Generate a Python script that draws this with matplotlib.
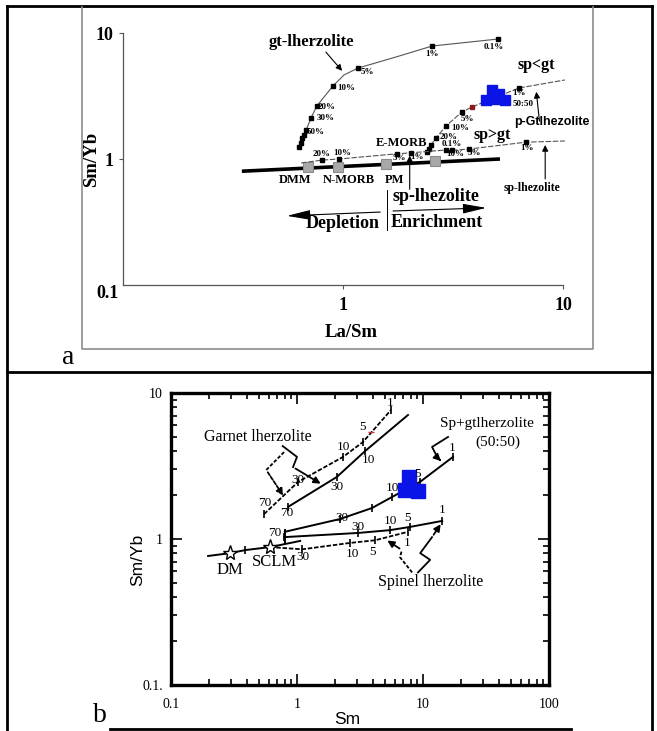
import matplotlib
matplotlib.use('Agg')
import matplotlib.pyplot as plt
from matplotlib.lines import Line2D

plt.rcParams['font.family'] = ['Liberation Serif', 'DejaVu Serif']

W, H = 657, 731

# ---------------- panel a : La/Sm vs Sm/Yb ----------------
gt_curve_x = [0.63, 0.644, 0.65, 0.665, 0.68, 0.716, 0.76, 0.90, 1.01, 1.17, 1.74, 2.54, 5.07]
gt_curve_y = [1.25, 1.34, 1.47, 1.55, 1.70, 2.12, 2.63, 3.80, 4.64, 5.27, 6.45, 7.88, 8.96]
gt_mark_x = [0.63, 0.644, 0.65, 0.665, 0.68, 0.716, 0.76, 0.90, 1.17, 2.54, 5.07]
gt_mark_y = [1.25, 1.34, 1.47, 1.55, 1.70, 2.12, 2.63, 3.80, 5.27, 7.88, 8.96]
gt_pct = ['50%', '30%', '20%', '10%', '5%', '1%', '0.1%']
gt_pct_x = [0.754, 0.83, 0.846, 1.03, 1.29, 2.54, 4.86]
gt_pct_y = [1.64, 2.12, 2.59, 3.66, 4.9, 6.8, 7.74]

mix_x = [2.41, 2.46, 2.51, 2.65, 2.94, 3.47, 3.86, 6.31, 10.2]
mix_y = [1.14, 1.20, 1.29, 1.47, 1.83, 2.36, 2.59, 3.66, 4.24]
mix_mark_x = [2.41, 2.46, 2.51, 2.65, 2.94, 3.47, 6.31]
mix_mark_y = [1.14, 1.20, 1.29, 1.47, 1.83, 2.36, 3.66]
mix_pct = ['20%', '10%', '5%', '1%', '50:50']
mix_pct_x = [3.03, 3.4, 3.66, 6.31, 6.6]
mix_pct_y = [1.5, 1.76, 2.08, 3.34, 2.73]

sp_x = [0.645, 0.80, 0.96, 1.76, 2.04, 2.94, 3.13, 3.74, 6.79, 10.2]
sp_y = [0.93, 0.98, 1.0, 1.10, 1.12, 1.18, 1.17, 1.2, 1.36, 1.39]
sp_mark_x = [0.80, 0.96, 1.76, 2.04, 2.94, 3.13, 3.74, 6.79]
sp_mark_y = [0.98, 1.0, 1.10, 1.12, 1.18, 1.17, 1.2, 1.36]
sp_pct = ['20%', '10%', '5%', '1%', '0.1%', '10%', '5%', '1%']
sp_pct_x = [0.80, 0.99, 1.8, 2.17, 3.13, 3.23, 3.94, 6.86]
sp_pct_y = [1.10, 1.12, 1.02, 1.04, 1.32, 1.10, 1.12, 1.22]

mantle_x = [0.347, 5.17]
mantle_y = [0.80, 1.0]
res_names = ['DMM', 'N-MORB', 'PM', 'E-MORB']
res_x = [0.69, 0.95, 1.57, 2.62]
res_y = [0.86, 0.86, 0.91, 0.96]
res_lab_x = [0.605, 1.06, 1.72, 1.84]
res_lab_y = [0.68, 0.68, 0.68, 1.34]

blue_a_x = [4.76, 5.12, 4.47, 4.96, 5.45]
blue_a_y = [3.53, 3.28, 2.94, 2.99, 2.94]

# ---------------- panel b : Sm vs Sm/Yb ----------------
gd_x = [0.547, 1.02, 2.32, 3.34, 5.57]        # garnet lherzolite, dashed
gd_y = [1.48, 2.46, 3.65, 4.62, 7.65]
gd_lab = ['70', '30', '10', '5', '1']
gd_lab_x = [0.557, 1.02, 2.32, 3.28, 5.47]
gd_lab_y = [1.76, 2.54, 4.27, 5.85, 8.54]

gs_x = [0.85, 2.07, 3.47, 7.6]                # garnet lherzolite, solid
gs_y = [1.66, 2.66, 4.0, 7.07]
gs_lab = ['70', '30', '10']
gs_lab_x = [0.83, 2.07, 3.66]
gs_lab_y = [1.51, 2.27, 3.47]

mb_x = [0.80, 2.19, 3.94, 5.68, 9.46, 17.3]   # sp+gt 50:50
mb_y = [1.12, 1.37, 1.63, 1.94, 2.46, 3.65]
mb_tick_x = [2.19, 3.94, 5.68, 9.46, 17.3]
mb_tick_y = [1.37, 1.63, 1.94, 2.46, 3.65]
mb_lab = ['70', '30', '10', '5', '1']
mb_lab_x = [0.67, 2.27, 5.68, 9.12, 17.0]
mb_lab_y = [1.1, 1.39, 2.24, 2.79, 4.2]

ss_x = [0.79, 3.05, 5.47, 7.89, 14.2]         # spinel lherzolite, solid
ss_y = [1.03, 1.10, 1.15, 1.21, 1.33]
ss_lab = ['30', '10', '5', '1']
ss_lab_x = [3.05, 5.47, 7.6, 14.2]
ss_lab_y = [1.21, 1.33, 1.39, 1.58]

sd_x = [0.61, 1.1, 2.64, 4.16, 7.6]           # spinel lherzolite, dashed
sd_y = [0.88, 0.85, 0.94, 0.98, 1.12]
sd_lab = ['30', '10', '5', '1']
sd_lab_x = [1.12, 2.74, 4.0, 7.46]
sd_lab_y = [0.75, 0.79, 0.815, 0.94]

base_x = [0.197, 0.294, 0.39, 0.61, 1.06]
base_y = [0.765, 0.80, 0.84, 0.88, 0.97]
star_x = [0.294, 0.61]
star_y = [0.80, 0.88]

blue_b_x = [7.74, 7.2, 9.12]
blue_b_y = [2.66, 2.17, 2.13]


def fx(px):
    return px / W


def fy(py):
    return 1 - py / H


fig = plt.figure(figsize=(W / 100, H / 100), dpi=100)

# table-like frame around the two images
for (x0, y0, x1, y1) in [(7, 6, 7, 731), (7, 6, 652, 6), (652, 6, 652, 731),
                         (7, 372, 652, 372), (110, 729, 571, 729)]:
    fig.add_artist(Line2D([fx(x0), fx(x1)], [fy(y0), fy(y1)], color='k', lw=2))
fig.add_artist(Line2D([fx(82), fx(82), fx(593), fx(593)], [fy(7), fy(349), fy(349), fy(7)],
                      color='#8c8c8c', lw=1.2))
fig.text(fx(68), fy(357), 'a', fontsize=20, ha='center', va='center')
fig.text(fx(100), fy(716), 'b', fontsize=20, ha='center', va='center')

# ---------------- panel a ----------------
ax = fig.add_axes([fx(123), fy(285), fx(563) - fx(123), fy(33) - fy(285)])
ax.set_xscale('log')
ax.set_yscale('log')
ax.set_xlim(0.1, 10)
ax.set_ylim(0.1, 10)
for s in ['top', 'right']:
    ax.spines[s].set_visible(False)
for s in ['left', 'bottom']:
    ax.spines[s].set_color('#555555')
    ax.spines[s].set_linewidth(0.9)
ax.minorticks_off()
ax.set_xticks([1, 10])
ax.set_xticklabels(['1', '10'], fontweight='bold', fontsize=13)
ax.set_yticks([1, 10])
ax.set_yticklabels(['1', '10'], fontweight='bold', fontsize=13)
ax.tick_params(length=3, color='#555555', pad=6)
ax.tick_params(axis='y', pad=4)
ax.text(-0.011, -0.032, '0.1', transform=ax.transAxes, ha='right', va='center',
        fontweight='bold', fontsize=13)
ax.set_ylabel('Sm/Yb', fontweight='bold', fontsize=13.5, va='center', ha='center')
ax.yaxis.set_label_coords(-0.072, 0.5)
ax.set_xlabel('La/Sm', fontweight='bold', fontsize=13.5, va='center', ha='center')
ax.xaxis.set_label_coords(0.518, -0.19)

ax.plot(mantle_x, mantle_y, color='k', lw=2.6, solid_capstyle='butt')
ax.plot(res_x, res_y, 's', ms=7.5, mfc='#a8a8a8', mec='#8a8a8a', mew=0.8)
for n, x, y in zip(res_names, res_lab_x, res_lab_y):
    ax.text(x, y, n, ha='center', va='center', fontweight='bold', fontsize=9)

ax.plot(gt_curve_x, gt_curve_y, color='#555555', lw=0.8)
ax.plot(gt_mark_x, gt_mark_y, 's', color='k', ms=2.6)
ax.plot(mix_x, mix_y, color='#555555', lw=0.8, ls=(0, (5, 1.5)), clip_on=False)
ax.plot(mix_mark_x, mix_mark_y, 's', color='k', ms=2.6)
ax.plot([mix_x[6]], [mix_y[6]], 's', color='#8b1a1a', ms=3)
ax.plot(sp_x, sp_y, color='#555555', lw=0.8, ls=(0, (5, 1.5)), clip_on=False)
ax.plot(sp_mark_x, sp_mark_y, 's', color='k', ms=2.6)
ax.plot(blue_a_x, blue_a_y, 's', ms=7.5, color='#0a14e6', mec='#0a14e6')

for labs, xs, ys in [(gt_pct, gt_pct_x, gt_pct_y), (mix_pct, mix_pct_x, mix_pct_y),
                     (sp_pct, sp_pct_x, sp_pct_y)]:
    for t, x, y in zip(labs, xs, ys):
        ax.text(x, y, t, ha='center', va='center', fontweight='bold', fontsize=6.5)

ax.text(0.72, 8.5, 'gt-lherzolite', ha='center', va='center', fontweight='bold', fontsize=12)
ax.text(7.54, 5.57, 'sp<gt', ha='center', va='center', fontweight='bold', fontsize=11.5)
ax.text(4.76, 1.55, 'sp>gt', ha='center', va='center', fontweight='bold', fontsize=11.5)
ax.text(8.9, 1.97, 'p-Gtlhezolite', ha='center', va='center', fontweight='bold', fontsize=9,
        family=['Liberation Sans', 'DejaVu Sans'])
ax.text(7.23, 0.59, 'sp-lhezolite', ha='center', va='center', fontweight='bold', fontsize=8.5)
ax.text(2.65, 0.50, 'sp-lhezolite', ha='center', va='center', fontweight='bold', fontsize=13)
ax.text(1.0, 0.31, 'Depletion', ha='center', va='center', fontweight='bold', fontsize=13)
ax.text(2.67, 0.316, 'Enrichment', ha='center', va='center', fontweight='bold', fontsize=13)

arrow = dict(arrowstyle='-|>', color='k', lw=0.8, mutation_scale=9)
ax.annotate('', xy=(1.01, 4.82), xytext=(0.82, 7.33), arrowprops=arrow)
ax.annotate('', xy=(7.54, 3.59), xytext=(7.84, 1.9), arrowprops=arrow)
ax.annotate('', xy=(8.3, 1.36), xytext=(8.3, 0.66), arrowprops=arrow)
ax.annotate('', xy=(2.01, 1.12), xytext=(2.01, 0.547), arrowprops=arrow)
long_arrow = dict(arrowstyle='-|>,head_length=1.2,head_width=0.25', color='k', lw=0.8,
                  mutation_scale=12)
ax.annotate('', xy=(0.54, 0.353), xytext=(1.52, 0.38), arrowprops=long_arrow)
ax.annotate('', xy=(4.61, 0.41), xytext=(1.64, 0.386), arrowprops=long_arrow)
ax.plot([1.585, 1.585], [0.567, 0.273], color='k', lw=0.7)

# ---------------- panel b ----------------
bx = fig.add_axes([fx(171), fy(685), fx(549) - fx(171), fy(393) - fy(685)])
bx.set_xscale('log')
bx.set_yscale('log')
bx.set_xlim(0.1, 100)
bx.set_ylim(0.1, 10)
for s in bx.spines.values():
    s.set_linewidth(2.4)
bx.tick_params(which='both', direction='in', top=True, right=True, width=1.2)
bx.tick_params(which='major', length=8, labelsize=10, pad=9)
bx.tick_params(which='minor', length=4)
bx.set_xticks([0.1, 1, 10, 100])
bx.set_xticklabels(['0.1', '1', '10', '100'])
bx.set_yticks([0.1, 1, 10])
bx.set_yticklabels(['0.1.', '1', '10'])
bx.tick_params(axis='y', pad=6)
bx.set_ylabel('Sm/Yb', fontsize=12.5, family=['Liberation Sans', 'DejaVu Sans'],
              va='center', ha='center')
bx.yaxis.set_label_coords(-0.087, 0.43)
bx.set_xlabel('Sm', fontsize=12.5, family=['Liberation Sans', 'DejaVu Sans'],
              va='center', ha='center')
bx.xaxis.set_label_coords(0.466, -0.118)

bx.plot(gd_x, gd_y, color='k', lw=1.3, ls=(0, (2.5, 1)), marker='|', ms=6, mew=1.2)
bx.plot([3.9], [5.4], marker='_', color='#cc3333', ms=5)
bx.plot(gs_x, gs_y, color='k', lw=1.4, marker='|', ms=6, mew=1.2, markevery=[0, 1, 2])
bx.plot(mb_x, mb_y, color='k', lw=1.4)
bx.plot(mb_tick_x, mb_tick_y, '|', color='k', ms=6, mew=1.2)
bx.plot(ss_x, ss_y, color='k', lw=1.4, marker='|', ms=6, mew=1.2)
bx.plot(sd_x, sd_y, color='k', lw=1.3, ls=(0, (2.5, 1)), marker='|', ms=6, mew=1.2,
        markevery=[1, 2, 3, 4])
bx.plot(base_x, base_y, color='k', lw=1.4, marker='|', ms=6, mew=1.2, markevery=[2])
bx.plot([0.80, 0.80], [1.15, 0.94], color='k', lw=1.4)
bx.plot(star_x, star_y, '*', ms=11, mfc='white', mec='k', mew=1)
bx.plot(blue_b_x, blue_b_y, 's', ms=10, color='#0a14e6', mec='#0a14e6')

for labs, xs, ys in [(gd_lab, gd_lab_x, gd_lab_y), (gs_lab, gs_lab_x, gs_lab_y),
                     (mb_lab, mb_lab_x, mb_lab_y), (ss_lab, ss_lab_x, ss_lab_y),
                     (sd_lab, sd_lab_x, sd_lab_y)]:
    for t, x, y in zip(labs, xs, ys):
        bx.text(x, y, t, ha='center', va='center', fontsize=9.5)

bx.text(0.49, 5.0, 'Garnet lherzolite', ha='center', va='center', fontsize=11.5)
bx.text(32.2, 6.23, 'Sp+gtlherzolite', ha='center', va='center', fontsize=11)
bx.text(39.4, 4.61, '(50:50)', ha='center', va='center', fontsize=11)
bx.text(11.4, 0.51, 'Spinel lherzolite', ha='center', va='center', fontsize=11.5)
bx.text(0.294, 0.61, 'DM', ha='center', va='center', fontsize=12)
bx.text(0.66, 0.70, 'SCLM', ha='center', va='center', fontsize=12)

barrow = dict(arrowstyle='-|>', color='k', lw=1.3, mutation_scale=10)
# garnet solid callout
bx.plot([0.77, 1.0, 0.93], [4.33, 3.65, 3.11], color='k', lw=1.3)
bx.annotate('', xy=(1.61, 2.34), xytext=(0.93, 3.11), arrowprops=barrow)
# garnet dashed callout
bx.plot([0.79, 0.57], [3.94, 2.97], color='k', lw=1.3, ls=(0, (2, 1)))
bx.annotate('', xy=(0.80, 1.91), xytext=(0.57, 2.97),
            arrowprops=dict(barrow, linestyle=(0, (2, 1))))
# sp+gt callout
bx.plot([15.8, 11.8, 13.1], [5.0, 4.27, 3.59], color='k', lw=1.3)
bx.annotate('', xy=(14.4, 3.32), xytext=(13.1, 3.59), arrowprops=barrow)
# spinel callouts
bx.plot([9.12, 11.4, 9.5, 11.8], [0.59, 0.72, 0.80, 1.03], color='k', lw=1.3)
bx.annotate('', xy=(14.2, 1.31), xytext=(11.8, 1.03), arrowprops=barrow)
bx.plot([8.2, 6.57, 6.8], [0.59, 0.75, 0.84], color='k', lw=1.3, ls=(0, (2, 1)))
bx.annotate('', xy=(4.99, 1.0), xytext=(6.8, 0.84), arrowprops=barrow)

fig.savefig('out.png', dpi=100)
